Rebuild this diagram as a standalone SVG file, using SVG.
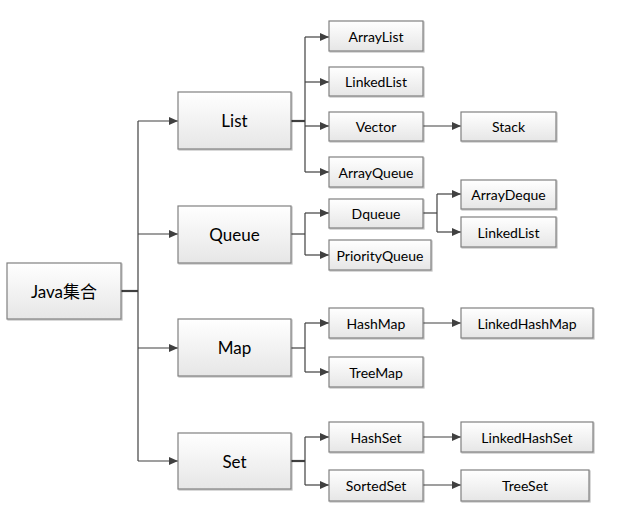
<svg xmlns="http://www.w3.org/2000/svg" width="629" height="519" viewBox="0 0 629 519">
<defs>
<linearGradient id="g" x1="0" y1="0" x2="0" y2="1">
<stop offset="0" stop-color="#ffffff"/>
<stop offset="1" stop-color="#e6e6e6"/>
</linearGradient>
<filter id="sh" x="-10%" y="-10%" width="130%" height="140%">
<feDropShadow dx="1" dy="1" stdDeviation="0.6" flood-color="#000" flood-opacity="0.25"/>
</filter>
<marker id="ah" markerWidth="9" markerHeight="8" refX="9" refY="4" orient="auto" markerUnits="userSpaceOnUse">
<path d="M0,0 L9,4 L0,8 Z" fill="#404040"/>
</marker>
</defs>
<style>
.box{fill:url(#g);stroke:#808080;stroke-width:1.2;filter:url(#sh)}
.t1{font-family:Lato,"Open Sans","Noto Sans CJK SC",sans-serif;font-size:17px;fill:#000;text-anchor:middle;dominant-baseline:central}
.t2{font-family:Lato,"Open Sans",sans-serif;font-size:14px;fill:#000;text-anchor:middle;dominant-baseline:central}
.c{fill:none;stroke:#404040;stroke-width:1.2}
.a{fill:none;stroke:#404040;stroke-width:1.2;marker-end:url(#ah)}
.s{fill:none;stroke:#404040;stroke-width:2.2}
</style>
<rect width="629" height="519" fill="#fff"/>
<g id="connectors">
<path class="s" d="M121,291 H138"/>
<path class="c" d="M138,121 V461"/>
<path class="a" d="M138,121 H178"/>
<path class="a" d="M138,234 H178"/>
<path class="a" d="M138,348 H178"/>
<path class="a" d="M138,461 H178"/>
<path class="s" d="M291,121 H305"/>
<path class="c" d="M305,37 V172"/>
<path class="a" d="M305,37 H329"/>
<path class="a" d="M305,82 H329"/>
<path class="a" d="M305,126 H329"/>
<path class="a" d="M305,172 H329"/>
<path class="a" d="M423,126 H461"/>
<path class="c" d="M291,234 H305"/>
<path class="c" d="M305,213 V255"/>
<path class="a" d="M305,213 H329"/>
<path class="a" d="M305,255 H329"/>
<path class="c" d="M423,213 H437"/>
<path class="c" d="M437,194 V232"/>
<path class="a" d="M437,194 H461"/>
<path class="a" d="M437,232 H461"/>
<path class="c" d="M291,348 H305"/>
<path class="c" d="M305,323 V372"/>
<path class="a" d="M305,323 H329"/>
<path class="a" d="M305,372 H329"/>
<path class="a" d="M423,323 H461"/>
<path class="s" d="M291,461 H305"/>
<path class="c" d="M305,437 V485"/>
<path class="a" d="M305,437 H329"/>
<path class="a" d="M305,485 H329"/>
<path class="a" d="M423,485 H461"/>
<path class="a" d="M423,437 H461"/>
</g>
<g id="java"><rect class="box" x="7" y="263" width="114" height="56"/><text class="t1" x="64" y="291">Java集合</text></g>
<g id="list"><rect class="box" x="178" y="92" width="113" height="57"/><text class="t1" x="234.5" y="120.5">List</text></g>
<g id="queue"><rect class="box" x="178" y="206" width="113" height="57"/><text class="t1" x="234.5" y="234.5">Queue</text></g>
<g id="map"><rect class="box" x="178" y="319" width="113" height="57"/><text class="t1" x="234.5" y="347.5">Map</text></g>
<g id="set"><rect class="box" x="178" y="433" width="113" height="56"/><text class="t1" x="234.5" y="461">Set</text></g>
<g id="arraylist"><rect class="box" x="329" y="21" width="94" height="30"/><text class="t2" x="376" y="36">ArrayList</text></g>
<g id="linkedlist"><rect class="box" x="329" y="67" width="94" height="29"/><text class="t2" x="376" y="81.5">LinkedList</text></g>
<g id="vector"><rect class="box" x="329" y="112" width="94" height="29"/><text class="t2" x="376" y="126.5">Vector</text></g>
<g id="stack"><rect class="box" x="461" y="112" width="95" height="29"/><text class="t2" x="508.5" y="126.5">Stack</text></g>
<g id="arrayqueue"><rect class="box" x="329" y="157" width="94" height="30"/><text class="t2" x="376" y="172">ArrayQueue</text></g>
<g id="dqueue"><rect class="box" x="329" y="199" width="94" height="29"/><text class="t2" x="376" y="213.5">Dqueue</text></g>
<g id="arraydeque"><rect class="box" x="461" y="180" width="95" height="29"/><text class="t2" x="508.5" y="194.5">ArrayDeque</text></g>
<g id="linkedlist2"><rect class="box" x="461" y="217" width="95" height="30"/><text class="t2" x="508.5" y="232">LinkedList</text></g>
<g id="priorityqueue"><rect class="box" x="329" y="240" width="102" height="30"/><text class="t2" x="380" y="255">PriorityQueue</text></g>
<g id="hashmap"><rect class="box" x="329" y="308" width="94" height="30"/><text class="t2" x="376" y="323">HashMap</text></g>
<g id="linkedhashmap"><rect class="box" x="461" y="308" width="132" height="30"/><text class="t2" x="527" y="323">LinkedHashMap</text></g>
<g id="treemap"><rect class="box" x="329" y="357" width="94" height="30"/><text class="t2" x="376" y="372">TreeMap</text></g>
<g id="hashset"><rect class="box" x="329" y="422" width="94" height="30"/><text class="t2" x="376" y="437">HashSet</text></g>
<g id="linkedhashset"><rect class="box" x="461" y="422" width="132" height="30"/><text class="t2" x="527" y="437">LinkedHashSet</text></g>
<g id="sortedset"><rect class="box" x="329" y="470" width="94" height="31"/><text class="t2" x="376" y="485.5">SortedSet</text></g>
<g id="treeset"><rect class="box" x="461" y="470" width="128" height="31"/><text class="t2" x="525" y="485.5">TreeSet</text></g>
</svg>
